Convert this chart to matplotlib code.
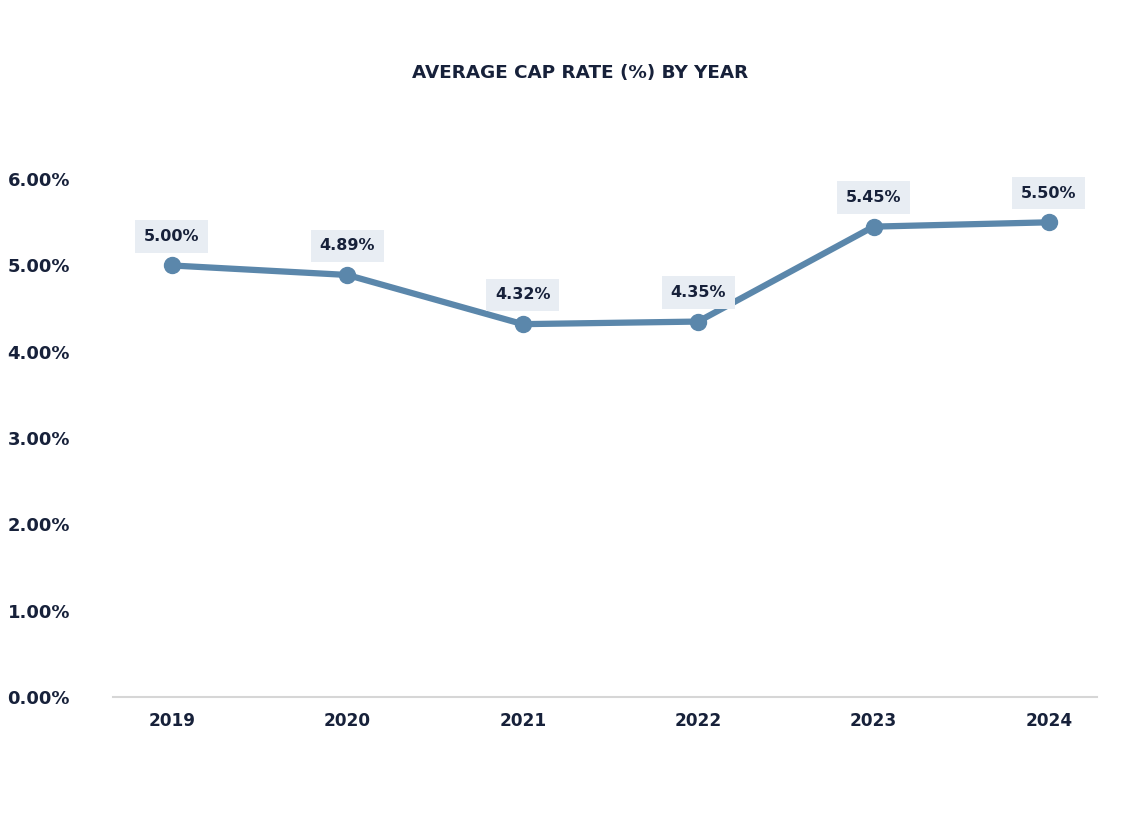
import matplotlib
matplotlib.use("Agg")
import matplotlib.pyplot as plt

years = ["2019", "2020", "2021", "2022", "2023", "2024"]
cap_rates = [5.00, 4.89, 4.32, 4.35, 5.45, 5.50]
y_ticks = [0, 1, 2, 3, 4, 5, 6]
y_tick_labels = ["0.00%", "1.00%", "2.00%", "3.00%", "4.00%", "5.00%", "6.00%"]
title = "AVERAGE CAP RATE (%) BY YEAR"

navy = "#17213a"
line_color = "#5b87ab"
box_color = "#e8edf3"

plt.rcParams['font.family'] = ['DejaVu Sans']

fig = plt.figure(figsize=(11.44, 8.40), dpi=100)
ax = fig.add_axes([113/1144, 1-697/840, (1097-113)/1144, (697-136)/840])

x = list(range(len(years)))
ax.plot(x, cap_rates, color=line_color, lw=4.5, marker='o', markersize=11.5,
        solid_capstyle='round', zorder=3)

for xi, v in zip(x, cap_rates):
    ax.annotate(f"{v:.2f}%", (xi, v), xytext=(0, 21), textcoords='offset points',
                ha='center', va='center', fontsize=11.5, fontweight='bold', color=navy,
                bbox=dict(boxstyle='square,pad=0.55', fc=box_color, ec='none'), zorder=4)

ax.set_xlim(-0.336, 5.274)
ax.set_ylim(0, 6.5)
ax.set_xticks(x)
ax.set_xticklabels(years, fontsize=12.2, fontweight='bold', color=navy)
ax.set_yticks(y_ticks)
ax.set_yticklabels(y_tick_labels, fontsize=13, fontweight='bold', color=navy, ha='left')
ax.tick_params(axis='y', length=0, pad=76)
ax.tick_params(axis='x', length=0, pad=11)

for s in ['top', 'right', 'left']:
    ax.spines[s].set_visible(False)
ax.spines['bottom'].set_color('#d6d6d6')
ax.spines['bottom'].set_linewidth(1.5)

fig.text(580/1144, 1-73/840, title, ha='center', va='center', fontsize=13.2,
         fontweight='bold', color=navy)

fig.savefig("out.png", dpi=100, facecolor='white')
